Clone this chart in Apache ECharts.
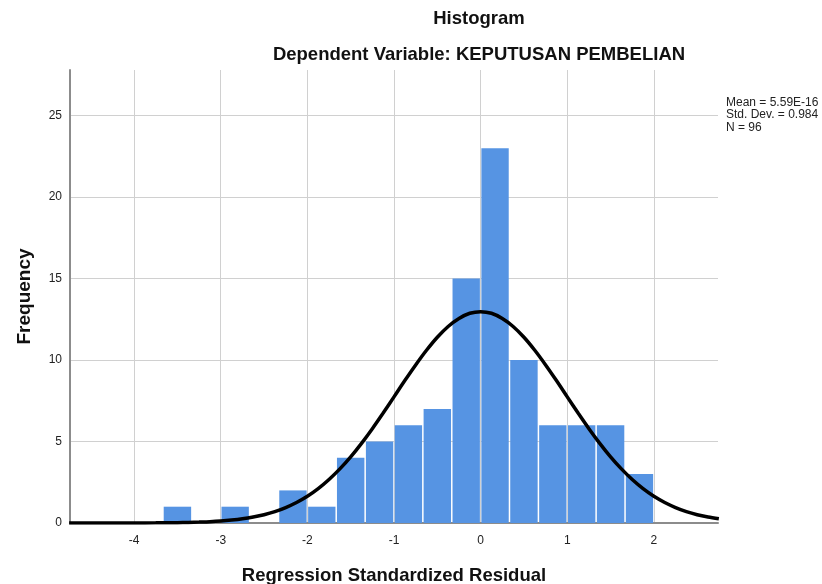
<!DOCTYPE html>
<html>
<head>
<meta charset="utf-8">
<script src="https://cdn.jsdelivr.net/npm/echarts@6/dist/echarts.min.js"></script>
<style>
  html, body { margin: 0; padding: 0; background: #fff; }
  #chart-container { width: 822px; height: 584px; }
</style>
</head>
<body>
<div id="chart-container"></div>
<script>
// histogram bins (width 1/3), lower / upper edges and counts
const binLow = [-3.667, -3.333, -3, -2.667, -2.333, -2, -1.667, -1.333, -1, -0.667, -0.333, 0, 0.333, 0.667, 1, 1.333, 1.667];
const binHigh = [-3.333, -3, -2.667, -2.333, -2, -1.667, -1.333, -1, -0.667, -0.333, 0, 0.333, 0.667, 1, 1.333, 1.667, 2];
const counts = [1, 0, 1, 0, 2, 1, 4, 5, 6, 7, 15, 23, 10, 6, 6, 6, 3];

// normal curve
const curveX = [
  -4.75, -4.5, -4.25, -4, -3.75, -3.5, -3.375, -3.25, -3.125, -3, -2.875, -2.75, -2.625, -2.5, -2.375,
  -2.25, -2.125, -2, -1.875, -1.75, -1.625, -1.5, -1.375, -1.25, -1.125, -1, -0.875, -0.75, -0.625, -0.5,
  -0.375, -0.25, -0.125, 0, 0.125, 0.25, 0.375, 0.5, 0.625, 0.75, 0.875, 1, 1.125, 1.25, 1.375,
  1.5, 1.625, 1.75, 1.875, 2, 2.125, 2.25, 2.375, 2.5, 2.625, 2.75,
];
const curveY = [
  0, 0, 0, 0.003, 0.009, 0.023, 0.036, 0.056, 0.08, 0.12, 0.18, 0.26, 0.37, 0.51, 0.7,
  0.95, 1.26, 1.64, 2.11, 2.67, 3.32, 4.06, 4.89, 5.79, 6.75, 7.74, 8.74, 9.7, 10.6, 11.4,
  12.06, 12.55, 12.87, 12.97, 12.87, 12.55, 12.06, 11.4, 10.6, 9.7, 8.74, 7.74, 6.75, 5.79, 4.89,
  4.06, 3.32, 2.67, 2.11, 1.64, 1.26, 0.95, 0.7, 0.51, 0.37, 0.26,
];

const xTicks = [-4, -3, -2, -1, 0, 1, 2];

var dom = document.getElementById("chart-container");
var myChart = echarts.init(dom, null, { renderer: "canvas" });

const FONT = "Liberation Sans, Arial, sans-serif";

const barData = counts.map((c, i) => [binLow[i], binHigh[i], c]);
const curveData = curveX.map((x, i) => [x, curveY[i]]);

var option = {
  animation: false,
  grid: { left: 70, right: 104, top: 70, bottom: 61, outerBoundsMode: "none" },
  title: [
    {
      text: "Histogram",
      left: 474, top: 4, textAlign: "center",
      textStyle: { fontFamily: FONT, fontSize: 18.5, fontWeight: "bold", color: "#111" },
    },
    {
      text: "Dependent Variable: KEPUTUSAN PEMBELIAN",
      left: 474, top: 40, textAlign: "center",
      textStyle: { fontFamily: FONT, fontSize: 18.5, fontWeight: "bold", color: "#111" },
    },
  ],
  graphic: [
    {
      type: "text", left: 726, top: 96,
      style: {
        text: "Mean = 5.59E-16\nStd. Dev. = 0.984\nN = 96",
        font: "12px " + FONT, fill: "#222", lineHeight: 12.5,
      },
    },
  ],
  xAxis: {
    type: "value",
    min: -4.74, max: 2.74,
    name: "Regression Standardized Residual",
    nameLocation: "middle", nameGap: 43,
    nameTextStyle: { fontFamily: FONT, fontSize: 18.5, fontWeight: "bold", color: "#111" },
    axisLine: { lineStyle: { color: "#8c8c8c", width: 2 } },
    axisTick: { show: false, customValues: xTicks },
    axisLabel: { customValues: xTicks, fontFamily: FONT, fontSize: 12, color: "#222", margin: 12 },
    splitLine: { show: true, lineStyle: { color: "#d0d0d0", width: 1 } },
  },
  yAxis: {
    type: "value",
    min: 0, max: 27.8, interval: 5,
    name: "Frequency",
    nameLocation: "middle", nameGap: 36,
    nameTextStyle: { fontFamily: FONT, fontSize: 19, fontWeight: "bold", color: "#111" },
    axisLine: { show: true, onZero: false, lineStyle: { color: "#8c8c8c", width: 2 } },
    axisTick: { show: false },
    axisLabel: { fontFamily: FONT, fontSize: 12, color: "#222", margin: 8, showMaxLabel: false },
    splitLine: { show: true, showMaxLine: false, lineStyle: { color: "#d0d0d0", width: 1 } },
  },
  series: [
    {
      type: "custom",
      data: barData,
      encode: { x: [0, 1], y: 2 },
      renderItem: function (params, api) {
        const lo = api.coord([api.value(0), api.value(2)]);
        const hi = api.coord([api.value(1), 0]);
        return {
          type: "rect",
          shape: { x: lo[0] + 0.75, y: lo[1], width: hi[0] - lo[0] - 1.5, height: hi[1] - lo[1] },
          style: { fill: "#5694E3" },
        };
      },
      z: 2,
    },
    {
      type: "line",
      data: curveData,
      smooth: 0.3,
      showSymbol: false,
      lineStyle: { color: "#000", width: 3.5 },
      z: 3,
    },
  ],
};

myChart.setOption(option);
window.addEventListener("resize", myChart.resize);
</script>
</body>
</html>
